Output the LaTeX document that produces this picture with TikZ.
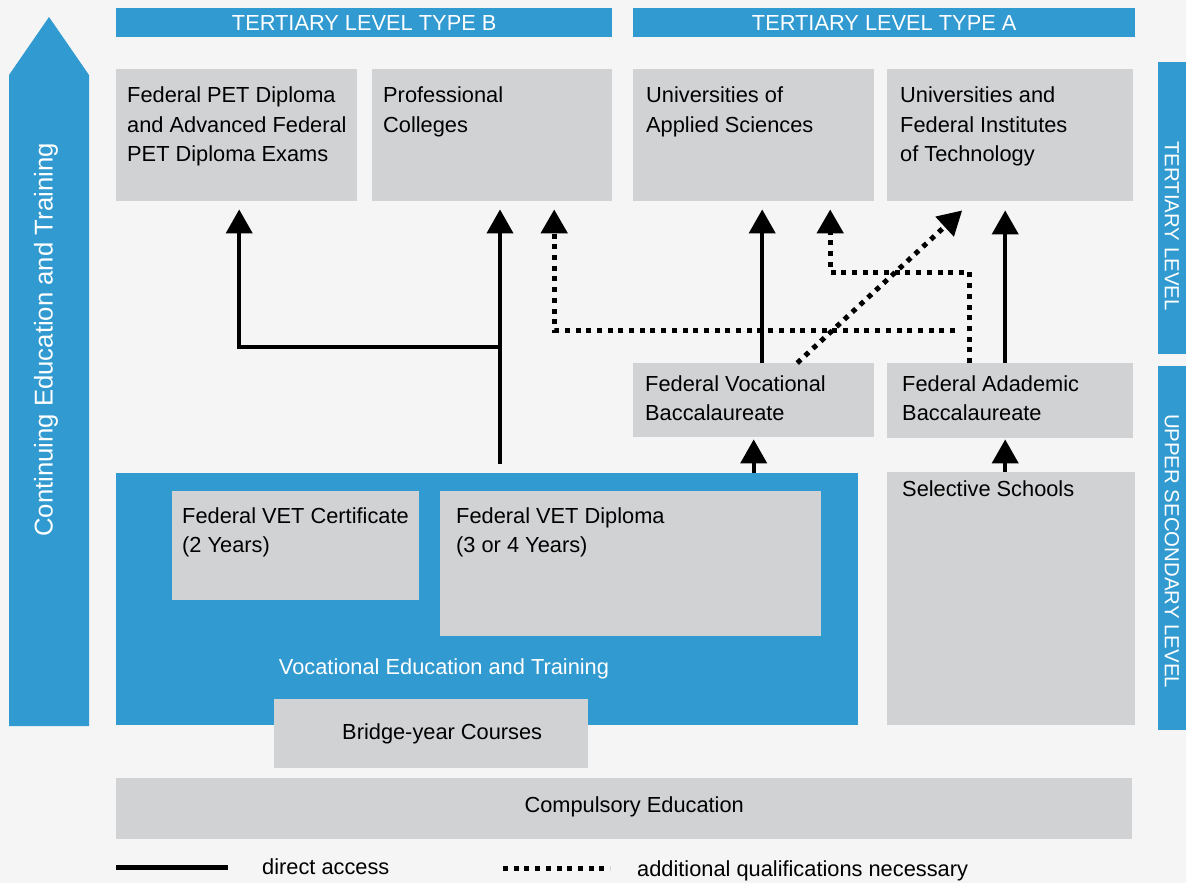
\documentclass[tikz,border=0pt]{standalone}
\usepackage{fontspec}
\setmainfont{Liberation Sans}
\usetikzlibrary{arrows.meta}
\definecolor{chblue}{HTML}{319AD0}
\definecolor{chgray}{HTML}{D1D2D4}
\definecolor{chback}{HTML}{F5F5F5}

\begin{document}
\begin{tikzpicture}[x=1pt,y=-1pt]
\tikzstyle{every node}+=[inner sep=0pt, font=\fontsize{21.8}{29.5}\selectfont]
\tikzstyle{box}=[fill=chgray, anchor=north west]
\tikzstyle{band}=[fill=chblue, anchor=north west, text=white]
\tikzstyle{boxtext}=[anchor=north west, align=left]
\tikzstyle{direct}=[black, line width=4pt, -{Triangle[width=26pt,length=24pt]}]
\tikzstyle{extra}=[black, line width=5pt, dash pattern=on 5pt off 5.7pt, -{Triangle[width=26pt,length=24pt]}]
\useasboundingbox (0,0) rectangle (1186,883);
\fill [chback] (0,0) rectangle (1186,883);
\fill [chblue] (9,726) -- (9,75) -- (49,17) -- (89,75) -- (89,726) -- cycle;
\node [rotate=90, text=white, font=\fontsize{25.7}{30}\selectfont] (cet) at (46,340) {Continuing Education and Training};
\node [band, minimum width=496, minimum height=29] (typeb) at (116,8) {TERTIARY LEVEL TYPE B};
\node [band, minimum width=502, minimum height=29] (typea) at (633,8) {TERTIARY LEVEL TYPE A};
\node [band, minimum width=32, minimum height=292] (tertiary) at (1158,62) {};
\node [band, minimum width=32, minimum height=364] (uppersec) at (1158,366) {};
\node [rotate=-90, text=white, font=\fontsize{20.4}{24}\selectfont] (tertext) at (1172,226) {TERTIARY LEVEL};
\node [rotate=-90, text=white, font=\fontsize{20.4}{24}\selectfont] (uptext) at (1172,551) {UPPER SECONDARY LEVEL};
\node [box, minimum width=241, minimum height=132] (pet) at (116,69) {};
\node [boxtext] (pettext) at ([shift={(11,18)}]pet.north west) {Federal PET Diploma\\and Advanced Federal\\PET Diploma Exams};
\node [box, minimum width=240, minimum height=132] (pc) at (372,69) {};
\node [boxtext] (pctext) at ([shift={(11,18)}]pc.north west) {Professional\\Colleges};
\node [box, minimum width=241, minimum height=132] (uas) at (633,69) {};
\node [boxtext] (uastext) at ([shift={(13,18)}]uas.north west) {Universities of\\Applied Sciences};
\node [box, minimum width=246, minimum height=132] (uni) at (887,69) {};
\node [boxtext] (unitext) at ([shift={(13,18)}]uni.north west) {Universities and\\Federal Institutes\\of Technology};
\node [box, minimum width=241, minimum height=74] (fvb) at (633,363) {};
\node [boxtext] (fvbtext) at ([shift={(12,12)}]fvb.north west) {Federal Vocational\\Baccalaureate};
\node [box, minimum width=246, minimum height=75] (fab) at (887,363) {};
\node [boxtext] (fabtext) at ([shift={(15,12)}]fab.north west) {Federal Adademic\\Baccalaureate};
\node [band, minimum width=742, minimum height=252] (vet) at (116,473) {};
\node [box, minimum width=247, minimum height=109] (cert) at (172,491) {};
\node [boxtext] (certtext) at ([shift={(10,16)}]cert.north west) {Federal VET Certificate\\(2 Years)};
\node [box, minimum width=381, minimum height=145] (dipl) at (440,491) {};
\node [boxtext] (dipltext) at ([shift={(16,16)}]dipl.north west) {Federal VET Diploma\\(3 or 4 Years)};
\node [text=white] (vettext) at (444,669) {Vocational Education and Training};
\node [box, minimum width=314, minimum height=69] (bridge) at (274,699) {};
\node (bridgetext) at ([xshift=11pt]bridge.center) {Bridge-year Courses};
\node [box, minimum width=248, minimum height=253] (sel) at (887,472) {};
\node [boxtext] (seltext) at ([shift={(15,8)}]sel.north west) {Selective Schools};
\node [box, minimum width=1016, minimum height=61] (comp) at (116,778) {};
\node (comptext) at ([xshift=10pt,yshift=1.5pt]comp.center) {Compulsory Education};
\coordinate (vetout) at (500,464);
\coordinate (split) at (500,347);
\coordinate (fabout) at (955,330);
\draw [direct, shorten >=8pt] (vetout) -- (vetout |- pc.south);
\draw [direct, shorten >=8pt] (split) -| ([xshift=2.5pt]pet.south);
\draw [extra, shorten >=8pt] (fabout) -| ([xshift=62pt]pc.south);
\draw [extra, shorten >=8pt] ([xshift=-41pt]fab.north) -- ++(0,-91) -| ([xshift=76.5pt]uas.south);
\draw [direct, shorten >=8pt] ([xshift=8.5pt]fvb.north) -- ([xshift=8.5pt]uas.south);
\draw [extra] ([xshift=43.5pt]fvb.north) -- ([xshift=-48pt,yshift=-9pt]uni.south);
\draw [direct, shorten >=9pt] ([xshift=-5pt]fab.north) -- ([xshift=-5pt]uni.south);
\draw [direct, shorten >=2pt] (vet.north -| fvb.south) -- (fvb.south);
\draw [direct, shorten >=1pt] ([xshift=-6pt]sel.north) -- ([xshift=-5pt]fab.south);
\draw [line width=5pt] (116,867.5) -- (228,867.5);
\node [anchor=base west] (legdirect) at (262,874) {direct access};
\draw [line width=5pt, dash pattern=on 5pt off 5.7pt] (503,868) -- (610,868);
\node [anchor=base west] (legextra) at (637,876) {additional qualifications necessary};
\end{tikzpicture}
\end{document}
